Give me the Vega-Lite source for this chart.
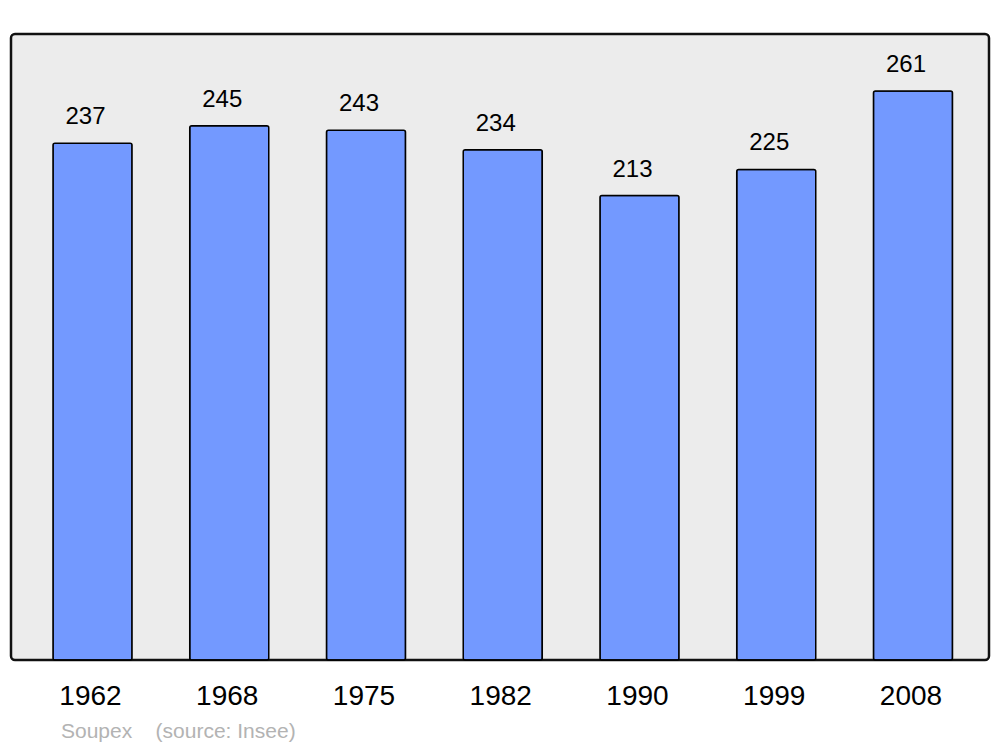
{
  "$schema": "https://vega.github.io/schema/vega-lite/v6.json",
  "width": 978,
  "height": 626,
  "padding": {"left": 11, "top": 34, "right": 11, "bottom": 0},
  "background": "white",
  "config": {
    "view": {"fill": "#ececec", "stroke": "#111111", "strokeWidth": 2.5, "cornerRadius": 4},
    "font": "Liberation Sans"
  },
  "title": {
    "text": "Soupex\u00a0\u00a0\u00a0\u00a0(source: Insee)",
    "orient": "bottom",
    "anchor": "start",
    "dx": 50,
    "offset": 11,
    "fontSize": 21,
    "fontWeight": "normal",
    "color": "#b3b3b3",
    "font": "Liberation Sans"
  },
  "data": {
    "values": [
      {"year": "1962", "pop": 237},
      {"year": "1968", "pop": 245},
      {"year": "1975", "pop": 243},
      {"year": "1982", "pop": 234},
      {"year": "1990", "pop": 213},
      {"year": "1999", "pop": 225},
      {"year": "2008", "pop": 261}
    ]
  },
  "encoding": {
    "x": {
      "field": "year",
      "type": "nominal",
      "sort": null,
      "scale": {"paddingInner": 0.422, "paddingOuter": 0.287, "align": 0.535},
      "axis": {
        "title": null,
        "domain": false,
        "ticks": false,
        "labelAngle": 0,
        "labelFontSize": 28,
        "labelColor": "black",
        "labelPadding": 22,
        "labelOffset": -2,
        "labelFont": "Liberation Sans"
      }
    },
    "y": {
      "field": "pop",
      "type": "quantitative",
      "scale": {"domain": [0, 287.1], "nice": false, "zero": true},
      "axis": null
    }
  },
  "layer": [
    {
      "mark": {"type": "bar", "fill": "#7399ff", "stroke": "black", "strokeWidth": 1.5, "cornerRadius": 2}
    },
    {
      "mark": {"type": "text", "baseline": "alphabetic", "dy": -19, "dx": -7, "fontSize": 24, "color": "black", "font": "Liberation Sans"},
      "encoding": {"text": {"field": "pop", "type": "quantitative"}}
    }
  ]
}
